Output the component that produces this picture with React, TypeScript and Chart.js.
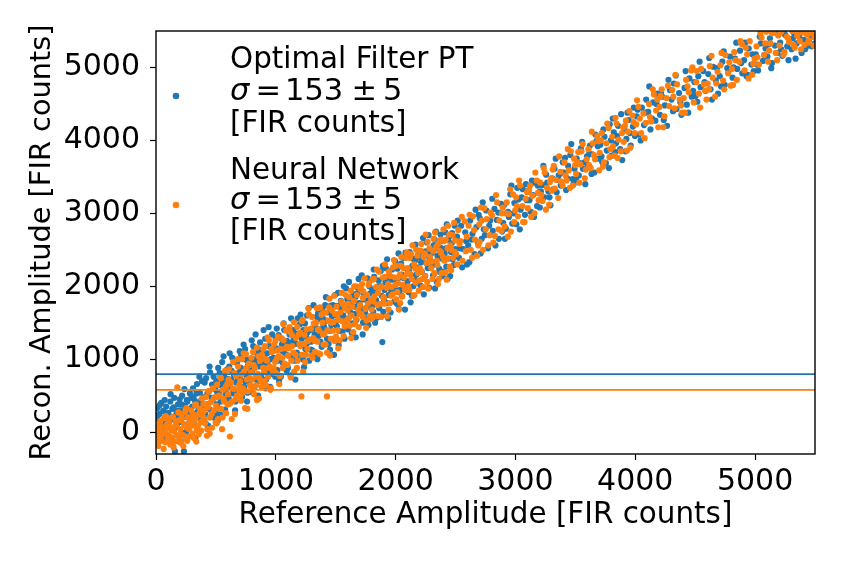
import React, { useEffect, useRef } from 'react';
import { Chart, registerables } from 'chart.js';

Chart.register(...registerables);

// ---- data (reference amplitude, reconstructed amplitude) ----
const optimalFilterPoints: [number, number][] = [
  [5,180],[12,330],[20,60],[28,250],[35,-120],[44,400],[52,140],[60,290],[68,-40],[77,210],[85,350],[94,100],
  [104,260],[111,-60],[119,420],[127,170],[136,320],[143,30],[152,470],[158,-265],[166,230],[175,110],[184,380],[193,-130],
  [203,300],[210,140],[218,500],[226,-20],[233,-265],[241,360],[249,210],[257,440],[266,80],[274,280],[283,530],[292,190],
  [302,350],[309,600],[317,120],[325,430],[334,260],[342,660],[350,20],[358,390],[367,540],[375,180],[384,700],[393,320],
  [402,480],[410,250],[418,740],[426,380],[435,90],[443,560],[451,820],[459,300],[468,650],[476,440],[485,200],[494,590],
  [503,700],[511,380],[519,880],[527,520],[536,240],[544,640],[552,960],[560,450],[569,760],[577,310],[586,580],[595,860],
  [603,620],[611,900],[619,400],[627,720],[636,1020],[644,530],[652,780],[660,300],[669,680],[677,950],[686,560],[695,820],
  [703,720],[711,1060],[719,480],[727,860],[736,620],[744,1140],[752,780],[760,420],[769,920],[777,680],[786,1000],[795,560],
  [803,840],[811,1180],[819,620],[827,960],[836,720],[844,1080],[852,500],[860,900],[869,1230],[877,760],[886,1010],[895,640],
  [903,960],[911,1280],[919,720],[927,1080],[936,840],[944,1180],[952,620],[960,1000],[969,1340],[977,880],[986,1120],[995,760],
  [8,20],[17,230],[31,370],[47,-10],[63,170],[72,440],[81,-90],[98,260],
  [107,150],[122,520],[131,-150],[147,340],[163,70],[171,290],[188,200],[197,450],
  [206,-130],[214,380],[229,250],[237,590],[253,10],[262,420],[278,130],[296,470],
  [305,240],[313,480],[328,-80],[338,530],[353,300],[362,760],[378,440],[396,150],
  [406,680],[414,120],[429,530],[438,330],[447,900],[463,470],[481,760],[497,260],
  [507,560],[516,160],[531,810],[540,420],[556,680],[564,1040],[581,510],[598,730],
  [607,460],[615,1080],[631,840],[640,590],[656,960],[664,420],[681,740],[699,1110],
  [707,880],[716,600],[731,1200],[740,700],[756,990],[764,540],[781,840],[799,1260],
  [807,540],[816,880],[831,1340],[840,1010],[856,700],[864,1130],[881,920],[898,1400],
  [907,1060],[916,600],[931,940],[940,1440],[956,1170],[964,800],[981,1020],[998,1290],
  [1004,1150],[1013,850],[1023,1330],[1032,1000],[1042,760],[1051,1200],[1061,940],[1070,1400],[1080,1070],[1090,840],
  [1107,1050],[1115,1340],[1122,780],[1136,1230],[1144,1400],[1158,980],[1167,1210],[1175,1090],[1183,1560],[1196,1330],
  [1202,1480],[1211,1190],[1226,1000],[1230,1400],[1247,1140],[1253,1310],[1261,1600],[1278,980],[1285,1400],[1294,1240],
  [1305,1120],[1318,1420],[1324,1340],[1333,1060],[1341,1580],[1356,1320],[1364,1550],[1372,1240],[1388,1690],[1397,1470],
  [1403,1440],[1412,1740],[1427,1280],[1435,1640],[1449,1390],[1452,1130],[1469,1590],[1477,1740],[1481,1280],[1499,1510],
  [1509,1450],[1514,1730],[1525,1190],[1538,1630],[1543,1800],[1557,1380],[1562,1600],[1579,1490],[1586,1970],[1591,1720],
  [1601,1410],[1616,1720],[1623,1640],[1634,1360],[1648,1890],[1655,1620],[1663,1850],[1674,1540],[1682,1980],[1695,1770],
  [1706,1990],[1710,1690],[1728,1500],[1731,1900],[1745,1640],[1759,1820],[1766,2110],[1773,1470],[1787,1900],[1793,1740],
  [1804,1950],[1813,1650],[1821,2130],[1837,1810],[1846,1570],[1854,2000],[1868,1750],[1876,2210],[1884,1870],[1897,1650],[1889,1234],
  [1908,1950],[1917,2250],[1924,1770],[1932,2130],[1942,1880],[1958,1640],[1965,2090],[1971,2230],[1989,1790],[1992,2000],
  [2002,1940],[2015,2240],[2027,1690],[2033,2120],[2046,2310],[2051,1870],[2067,2110],[2074,1980],[2082,2460],[2098,2230],
  [2107,1920],[2111,2210],[2129,2150],[2136,1870],[2144,2380],[2153,2110],[2162,2350],[2177,2050],[2185,2490],[2194,2260],
  [2203,2480],[2219,2200],[2222,1990],[2238,2410],[2247,2140],[2256,2320],[2261,2600],[2279,1980],[2283,2390],[2296,2250],
  [2305,2460],[2312,2150],[2326,2640],[2331,2300],[2343,2060],[2358,2510],[2364,2240],[2375,2710],[2387,2380],[2391,2140],
  [2409,2450],[2414,2740],[2423,2270],[2437,2640],[2441,2380],[2455,2140],[2468,2590],[2472,2730],[2486,2290],[2499,2510],
  [1008,1420],[1019,980],[1027,700],[1046,1280],[1057,1110],[1065,1490],[1084,880],[1093,1250],
  [1102,880],[1118,1220],[1127,1560],[1139,1030],[1149,1290],[1163,720],[1178,1350],[1191,1060],
  [1207,1610],[1216,1280],[1235,890],[1243,1490],[1258,1210],[1266,1370],[1274,1700],[1291,1130],
  [1309,1250],[1315,1740],[1328,1460],[1347,1000],[1353,1630],[1367,1410],[1383,1170],[1392,1560],
  [1408,1380],[1418,1850],[1424,1530],[1441,1210],[1457,1730],[1463,1470],[1486,1060],[1494,1880],
  [1503,1600],[1519,1910],[1528,1390],[1547,1690],[1553,1560],[1568,2000],[1574,1280],[1597,1820],
  [1607,1560],[1611,2060],[1628,1780],[1641,1490],[1659,1720],[1667,1300],[1678,1900],[1691,2100],
  [1701,1750],[1717,2150],[1725,1340],[1738,1820],[1752,1700],[1763,1560],[1781,2000],[1798,1910],
  [1808,1740],[1817,2230],[1829,1500],[1842,1920],[1859,2080],[1863,1700],[1879,2000],[1893,2280],
  [1903,1820],[1915,2060],[1929,2370],[1938,1560],[1947,2000],[1962,1950],[1977,2120],[1996,2340],
  [2008,2070],[2011,1760],[2024,2450],[2039,1950],[2049,2160],[2062,2390],[2078,1680],[2094,2020],
  [2101,2070],[2117,2470],[2125,1780],[2139,2280],[2148,2000],[2166,2570],[2174,2160],[2198,2400],
  [2208,2010],[2213,2330],[2229,2660],[2235,1890],[2250,2480],[2268,2250],[2275,2700],[2291,2450],
  [2302,2330],[2317,2560],[2329,1970],[2337,2750],[2349,2420],[2366,2200],[2373,2530],[2396,2620],
  [2402,2200],[2418,2520],[2427,2850],[2433,2100],[2448,2680],[2462,2470],[2477,2370],[2493,2830],
  [2512,2680],[2528,2390],[2547,2830],[2563,2510],[2581,2740],[2596,2300],
  [2606,2560],[2622,2900],[2641,2720],[2659,2440],[2674,2810],[2693,2980],
  [2703,2930],[2718,2650],[2736,2780],[2755,3040],[2771,2520],[2789,2900],
  [2811,2760],[2825,3060],[2844,2910],[2862,2650],[2880,3130],[2897,2870],
  [2904,3110],[2920,2790],[2938,3020],[2957,3260],[2973,2860],[2991,3140],
  [3008,2850],[3024,3190],[3043,3050],[3061,3330],[3079,2980],[3094,3180],
  [3109,3310],[3127,3020],[3146,3250],[3162,3420],[3180,3100],[3198,3290],
  [3203,3080],[3221,3390],[3240,3220],[3256,3530],[3275,3300],[3292,3110],
  [3307,3480],[3326,3610],[3344,3290],[3361,3520],[3378,3380],[3395,3700],
  [3405,3560],[3423,3320],[3440,3650],[3458,3800],[3477,3470],[3493,3610],
  [3511,3750],[3529,3520],[3546,3890],[3564,3610],[3583,3400],[3597,3780],
  [3604,3660],[3622,3930],[3641,3810],[3659,3560],[3676,3990],[3694,3750],
  [3708,3940],[3725,3700],[3743,4050],[3762,3860],[3780,3620],[3796,4000],
  [3803,3790],[3821,4110],[3839,3960],[3856,4200],[3874,3880],[3891,3730],
  [3909,4150],[3926,4020],[3945,4280],[3962,3930],[3980,4190],[3997,4060],
  [2518,2900],[2537,2520],[2555,2260],[2588,2620],[2615,2330],[2634,2640],[2667,3050],[2686,2600],
  [2709,2450],[2727,3150],[2745,2700],[2781,2830],[2806,3200],[2833,2560],[2857,3010],[2889,2750],
  [2912,2650],[2945,2950],[2966,3380],[2984,3000],[3015,3350],[3036,2780],[3052,3220],[3088,3400],
  [3117,3180],[3138,3450],[3155,2950],[3186,3380],[3212,3300],[3233,3650],[3265,3420],[3284,3220],
  [3315,3330],[3336,3750],[3352,3460],[3386,3560],[3414,3760],[3432,3480],[3466,3950],[3485,3400],
  [3505,3460],[3538,3690],[3557,3980],[3576,3700],[3616,3820],[3635,3540],[3667,4080],[3687,3920],
  [3718,3780],[3734,4150],[3755,3690],[3787,4220],[3812,4300],[3833,3840],[3848,4060],[3882,4360],
  [3918,3850],[3935,4380],[3955,4100],[3988,4450],
  [4012,4330],[4031,4080],[4055,4450],[4073,4210],[4091,4560],
  [4108,4390],[4127,4150],[4149,4520],[4168,4270],[4186,4640],
  [4206,4350],[4224,4600],[4247,4480],[4265,4200],[4289,4690],
  [4303,4560],[4322,4780],[4344,4430],[4366,4650],[4385,4350],
  [4411,4720],[4430,4490],[4452,4850],[4471,4600],[4493,4800],
  [4504,4610],[4526,4880],[4545,4730],[4567,4950],[4588,4680],
  [4609,4910],[4628,4700],[4650,5010],[4672,4820],[4691,4640],
  [4705,4880],[4727,5080],[4746,4760],[4768,4990],[4790,5150],
  [4812,4860],[4833,5120],[4851,4980],[4874,5230],[4893,4920],
  [4908,5100],[4929,4880],[4947,5260],[4969,5040],[4988,4950],
  [5006,5180],[5025,4960],[5048,5330],[5066,5090],[5087,5260],
  [5103,5150],[5124,5400],[5142,5060],[5165,5300],[5184,5200],
  [5209,5340],[5227,5160],[5250,5450],[5268,5290],[5289,5390],
  [5305,5250],[5326,5470],[5347,5330],[5369,5440],[5388,5200],
  [5407,5380],[5428,5480],[5446,5300],[5475,5290],[5492,5420],
  [4020,4420],[4045,4000],[4083,4380],[4117,4740],[4140,4300],[4178,4500],
  [4215,4650],[4238,4280],[4277,4830],[4315,4400],[4338,4890],[4376,4520],
  [4420,4950],[4442,4380],[4483,4680],[4518,4530],[4537,5080],[4578,4800],
  [4617,5130],[4640,4560],[4681,4990],[4716,4740],[4738,5220],[4780,4950],
  [4820,5000],[4843,5340],[4884,5060],[4918,5340],[4938,4900],[4978,5180],
  [5016,5040],[5039,5420],[5077,5170],[5114,5320],[5135,4990],[5174,5480],
  [5218,5250],[5240,5500],[5279,5100],[5316,5400],[5338,5120],[5378,5500],
  [5418,5250],[5437,5500],[5468,5440],[5499,5330],
];

const neuralNetworkPoints: [number, number][] = [
  [4,-60],[11,80],[19,-190],[27,20],[36,150],[43,-110],[51,60],[59,-20],[68,190],[76,-140],[84,40],[93,110],
  [103,-30],[110,130],[118,-170],[126,70],[135,-80],[142,210],[151,10],[159,-130],[167,90],[178,615],[183,-50],[192,160],
  [202,40],[209,-150],[217,190],[225,-40],[234,110],[242,270],[250,-100],[258,60],[267,200],[275,-60],[284,130],[293,300],
  [301,90],[308,250],[316,-80],[324,170],[333,380],[341,40],[349,230],[357,-30],[366,320],[374,140],[383,460],[392,210],
  [401,290],[409,120],[417,480],[425,-50],[434,340],[442,560],[450,200],[458,410],[467,60],[475,600],[484,300],[493,480],
  [502,360],[510,650],[518,180],[526,500],[535,760],[543,320],[551,40],[559,580],[568,420],[576,840],[585,260],[594,650],
  [602,520],[610,860],[617,-60],[626,680],[635,420],[643,960],[651,590],[659,250],[668,770],[676,500],[685,900],[694,640],
  [702,700],[710,430],[718,1000],[726,600],[735,830],[743,330],[751,1070],[759,720],[768,560],[776,940],[785,640],[794,820],
  [802,720],[810,1100],[818,520],[826,880],[835,640],[843,1160],[851,800],[859,460],[868,980],[876,700],[885,1060],[894,880],
  [902,820],[910,1180],[918,640],[926,980],[935,760],[943,1260],[951,900],[959,600],[968,1100],[976,820],[985,1200],[994,960],
  [7,40],[16,-150],[32,120],[48,-40],[64,-230],[73,70],[82,220],[97,-80],
  [106,190],[115,-120],[131,30],[147,-210],[163,150],[172,-40],[187,270],[196,-100],
  [207,-30],[213,240],[228,-190],[238,90],[254,330],[261,-120],[277,40],[289,180],
  [304,-20],[312,140],[327,370],[336,-130],[352,90],[361,250],[377,20],[397,380],
  [404,170],[413,380],[428,40],[437,560],[448,-20],[464,250],[482,460],[498,130],
  [506,120],[515,480],[532,320],[541,740],[555,200],[563,460],[582,620],[597,380],
  [606,720],[614,390],[632,180],[641,600],[655,810],[663,450],[682,1000],[698,560],
  [706,500],[715,790],[732,1080],[741,560],[755,880],[763,320],[782,740],[797,1020],
  [806,600],[815,920],[832,760],[842,440],[855,1040],[863,740],[882,620],[896,1140],
  [906,700],[915,1000],[932,1300],[942,880],[955,580],[963,1140],[982,880],[997,1250],
  [1003,810],[1016,1120],[1024,1040],[1035,770],[1048,1290],[1055,1020],[1066,1260],[1074,940],[1086,1390],[1095,1170],
  [1108,1150],[1114,1440],[1129,980],[1134,1330],[1147,1090],[1153,830],[1168,1290],[1179,1440],[1182,980],[1197,1210],
  [1206,1360],[1219,1060],[1225,1540],[1238,1210],[1244,960],[1257,1410],[1263,1140],[1276,1610],[1283,1270],[1298,1050],[1214,490],
  [1301,1580],[1312,1290],[1327,1100],[1335,1500],[1346,1240],[1352,1410],[1369,1710],[1371,1070],[1389,1500],[1393,1340],
  [1406,1350],[1417,1640],[1428,1090],[1439,1530],[1445,1710],[1459,1280],[1463,1500],[1476,1390],[1487,1870],[1494,1620],[1427,490],
  [1502,1310],[1511,1610],[1524,1540],[1533,1260],[1547,1790],[1556,1520],[1564,1750],[1575,1450],[1583,1880],[1598,1670],
  [1605,1760],[1618,1460],[1627,1940],[1631,1600],[1646,1370],[1652,1800],[1669,1550],[1673,2000],[1688,1680],[1692,1440],
  [1703,1740],[1719,2030],[1726,1580],[1730,1930],[1749,1690],[1754,1430],[1762,1880],[1778,2040],[1785,1590],[1796,1810],
  [1807,2090],[1815,1790],[1824,1590],[1836,1990],[1848,1740],[1853,1910],[1861,2200],[1879,1580],[1882,1990],[1899,1850],
  [1901,1840],[1912,2130],[1928,1590],[1936,2030],[1944,2200],[1953,1770],[1967,1990],[1975,1890],[1986,2360],[1994,2120],
  [2006,1820],[2018,2120],[2021,2040],[2039,1770],[2043,2280],[2058,2020],[2064,2250],[2079,1950],[2087,2390],[2096,2170],
  [2101,2250],[2114,1950],[2128,2440],[2135,2100],[2149,1870],[2154,2300],[2166,2050],[2171,2500],[2188,2180],[2193,1940],
  [2208,2490],[2216,2200],[2229,1990],[2234,2400],[2245,2140],[2259,2320],[2267,2610],[2272,1970],[2286,2400],[2297,2250],
  [2302,2340],[2317,2650],[2325,2180],[2339,2540],[2348,2290],[2353,2030],[2366,2490],[2377,2640],[2384,2180],[2395,2400],
  [2407,2350],[2418,2640],[2426,2090],[2434,2520],[2448,2710],[2452,2270],[2465,2500],[2479,2390],[2488,2870],[2496,2630],
  [1007,1000],[1018,1310],[1029,660],[1044,1140],[1058,880],[1063,1480],[1081,1150],[1097,920],
  [1103,1050],[1119,1380],[1125,750],[1137,1180],[1151,1510],[1165,1060],[1176,880],[1192,1340],
  [1203,1180],[1217,1520],[1228,830],[1239,1330],[1252,1060],[1268,1250],[1272,1690],[1293,1420],
  [1306,1020],[1317,1490],[1324,1250],[1343,1700],[1358,1080],[1363,1390],[1381,1610],[1398,1200],
  [1402,1640],[1414,1200],[1431,1400],[1448,1830],[1452,1050],[1467,1670],[1483,1510],[1491,1250],
  [1508,1720],[1516,1400],[1521,1150],[1539,1640],[1551,1910],[1566,1320],[1577,1700],[1592,1530],
  [1603,1550],[1612,1850],[1629,1290],[1637,1720],[1654,2000],[1662,1480],[1677,1880],[1699,1620],
  [1708,1960],[1714,1620],[1727,1840],[1741,2110],[1757,1530],[1768,1760],[1774,2020],[1799,1550],
  [1801,1680],[1819,2100],[1822,1860],[1844,2230],[1851,1590],[1868,1980],[1873,1760],[1894,2120],
  [1906,1760],[1911,2300],[1925,1980],[1941,1680],[1957,2140],[1963,1870],[1979,2260],[1998,2020],
  [2003,2280],[2014,1920],[2028,1680],[2036,2160],[2047,2400],[2055,1860],[2071,2120],[2093,2460],
  [2106,2000],[2118,2390],[2122,2170],[2141,2560],[2157,1880],[2164,2240],[2182,2420],[2197,2080],
  [2202,2250],[2215,2580],[2226,2100],[2243,2450],[2251,2710],[2264,2060],[2283,2520],[2291,2340],
  [2308,2100],[2314,2480],[2329,2740],[2343,2350],[2355,2580],[2362,2100],[2378,2460],[2399,2780],
  [2405,2620],[2416,2190],[2432,2380],[2437,2830],[2456,2560],[2463,2220],[2474,2700],[2495,2470],
  [2505,2440],[2523,2770],[2540,2620],[2558,2350],[2576,2890],[2593,2680],
  [2609,2830],[2627,2500],[2645,2960],[2662,2640],[2680,2420],[2698,2850],
  [2701,2610],[2719,2900],[2738,3070],[2752,2780],[2774,2560],[2792,3010],
  [2806,2970],[2828,2690],[2847,3150],[2865,2900],[2883,2760],[2894,3080],
  [2909,2820],[2927,3150],[2944,2990],[2962,2750],[2980,3260],[2998,3040],
  [3005,3220],[3021,2960],[3039,3380],[3058,3100],[3076,2880],[3097,3290],
  [3103,3070],[3122,3380],[3140,3240],[3159,3000],[3177,3450],[3193,3180],
  [3207,3420],[3226,3170],[3244,3560],[3263,3350],[3281,3120],[3299,3480],
  [3302,3310],[3320,3650],[3338,3460],[3357,3210],[3375,3570],[3393,3380],
  [3409,3700],[3427,3450],[3445,3590],[3462,3850],[3480,3380],[3498,3660],
  [3506,3540],[3524,3840],[3542,3670],[3561,3950],[3579,3480],[3594,3740],
  [3609,3880],[3628,3620],[3646,3960],[3664,3740],[3682,4060],[3699,3590],
  [3703,3830],[3721,4100],[3739,3700],[3758,3960],[3777,4170],[3793,3880],
  [3807,4050],[3826,3790],[3844,4230],[3861,4010],[3879,3850],[3898,4180],
  [3904,3980],[3922,4270],[3940,4120],[3959,3900],[3977,4340],[3995,4100],
  [2514,2300],[2533,2580],[2552,2950],[2585,2480],[2618,2980],[2638,2390],[2655,2770],[2689,2560],
  [2712,3080],[2730,2500],[2760,2920],[2784,2700],[2815,2600],[2838,3250],[2859,2780],[2886,3000],
  [2918,3000],[2936,2680],[2956,3330],[2989,2880],[3012,3100],[3030,3450],[3064,2880],[3085,3200],
  [3114,3320],[3131,2950],[3166,3560],[3188,3280],[3215,3250],[3236,3620],[3254,3050],[3288,3430],
  [3311,3600],[3329,3340],[3365,3780],[3381,3440],[3418,3520],[3437,3880],[3454,3350],[3489,3750],
  [3515,3700],[3533,3420],[3551,3850],[3587,3600],[3614,3660],[3637,4120],[3655,3800],[3691,3990],
  [3712,4000],[3730,3640],[3766,4230],[3785,3770],[3815,3920],[3835,4310],[3852,3760],[3889,4100],
  [3914,4200],[3931,3860],[3950,4400],[3986,4250],
  [4008,4220],[4027,4460],[4049,4100],[4068,4370],[4088,4240],
  [4115,4500],[4133,4260],[4155,4630],[4174,4410],[4192,4180],
  [4203,4460],[4221,4700],[4243,4330],[4261,4580],[4284,4470],
  [4309,4690],[4328,4440],[4349,4770],[4371,4560],[4390,4380],
  [4405,4580],[4424,4830],[4446,4660],[4467,4960],[4488,4520],
  [4509,4800],[4531,4640],[4550,4980],[4572,4770],[4594,4560],
  [4604,4780],[4622,5020],[4645,4860],[4666,4600],[4687,4940],
  [4711,5030],[4733,4820],[4752,5170],[4774,4920],[4796,4750],
  [4807,4980],[4826,5210],[4848,4830],[4869,5080],[4890,5320],
  [4912,4960],[4934,5180],[4955,5360],[4976,4900],[4996,5120],
  [5012,5290],[5033,5040],[5054,5410],[5075,5170],[5093,5490],
  [5108,5080],[5129,5330],[5151,5480],[5172,5200],[5193,5440],
  [5204,5300],[5223,5500],[5246,5210],[5265,5420],[5284,5350],
  [5310,5500],[5331,5270],[5352,5430],[5374,5360],[5393,5480],
  [5412,5310],[5433,5450],[5451,5370],[5470,5490],[5496,5420],
  [4015,4550],[4038,4300],[4078,4030],[4122,4320],[4146,4700],[4184,4560],
  [4212,4610],[4234,4180],[4273,4750],[4318,4600],[4335,4900],[4382,4480],
  [4414,4380],[4436,4740],[4477,5000],[4515,4950],[4541,4450],[4583,4680],
  [4615,4700],[4636,5160],[4676,4780],[4720,5200],[4742,4700],[4785,5070],
  [4816,4760],[4838,5100],[4878,5360],[4922,5270],[4945,4850],[4985,5050],
  [5020,5140],[5044,5470],[5085,5330],[5117,5230],[5140,5470],[5184,5100],
  [5214,5480],[5236,5170],[5275,5400],[5321,5310],[5342,5490],[5384,5250],
  [5422,5500],[5442,5340],[5460,5470],[5488,5300],
];

const seriesNames = ['Optimal Filter PT', 'Neural Network'];
const seriesColors = ['#1f77b4', '#ff7f0e'];
const sigmaValues = [153, 153];
const sigmaErrors = [5, 5];
const thresholdLevels = [795, 578];
const xRange = [0, 5500];
const yRange = [-300, 5500];
const xTicks = [0, 1000, 2000, 3000, 4000, 5000];
const yTicks = [0, 1000, 2000, 3000, 4000, 5000];

const FONT = '"DejaVu Sans", sans-serif';

// legend drawn by hand so each entry can hold three lines and an italic sigma
const legendPlugin = {
  id: 'sigmaLegend',
  afterDraw(chart: any) {
    const { ctx, chartArea } = chart;
    const size = 29.4;
    const mathSize = 30.5;
    const textX = chartArea.left + 74;
    const markerX = chartArea.left + 20;
    const baselines = [[68, 100, 132], [179, 209, 240]];
    const markerY = [96, 205];
    ctx.save();
    ctx.textAlign = 'left';
    ctx.textBaseline = 'alphabetic';
    seriesNames.forEach((name, i) => {
      const [b1, b2, b3] = baselines[i];
      ctx.fillStyle = seriesColors[i];
      ctx.beginPath();
      ctx.arc(markerX, markerY[i], 3.3, 0, Math.PI * 2);
      ctx.fill();
      ctx.fillStyle = '#000';
      ctx.font = `${size}px ${FONT}`;
      ctx.fillText(name, textX, b1);
      // sigma line: pieces placed by their ink left edge, math-style spacing
      const pieces = [
        { t: 'σ', italic: true, dx: 0 },
        { t: '=', italic: false, dx: 28.5 },
        { t: String(sigmaValues[i]), italic: false, dx: 58 },
        { t: '±', italic: false, dx: 124.5 },
        { t: String(sigmaErrors[i]), italic: false, dx: 155 },
      ];
      pieces.forEach((p) => {
        ctx.font = `${p.italic ? 'italic ' : ''}${mathSize}px ${FONT}`;
        const m = ctx.measureText(p.t);
        ctx.fillText(p.t, textX + p.dx + m.actualBoundingBoxLeft, b2);
      });
      ctx.font = `${size}px ${FONT}`;
      ctx.fillText('[FIR counts]', textX, b3);
    });
    ctx.restore();
  },
};

// full frame around the axes, like the four spines
const framePlugin = {
  id: 'frame',
  afterDraw(chart: any) {
    const { ctx, chartArea: a } = chart;
    ctx.save();
    ctx.strokeStyle = '#000';
    ctx.lineWidth = 1.4;
    ctx.strokeRect(a.left, a.top, a.right - a.left, a.bottom - a.top);
    ctx.restore();
  },
};

const App: React.FC = () => {
  const chartRef = useRef<HTMLCanvasElement | null>(null);

  useEffect(() => {
    if (!chartRef.current) return;

    const toXY = (pts: [number, number][]) => pts.map(([x, y]) => ({ x, y }));
    const points = [optimalFilterPoints, neuralNetworkPoints];

    const scatterSets = points.map((pts, i) => ({
      label: seriesNames[i],
      data: toXY(pts),
      backgroundColor: seriesColors[i],
      borderWidth: 0,
      pointRadius: 3.1,
      pointHoverRadius: 3.1,
      clip: 0,
      order: 2 - i,
    }));

    const lineSets = thresholdLevels.map((level, i) => ({
      label: `${seriesNames[i]} threshold`,
      data: xRange.map((x) => ({ x, y: level })),
      showLine: true,
      borderColor: seriesColors[i],
      borderWidth: 1.8,
      pointRadius: 0,
      clip: 0,
      order: 0,
    }));

    const tickFont = { family: FONT, size: 30 };
    const gridOpts = {
      drawOnChartArea: false,
      drawTicks: true,
      tickLength: 6,
      tickColor: '#000',
      tickWidth: 1.2,
    };

    const chart = new Chart(chartRef.current, {
      type: 'scatter',
      data: { datasets: [...scatterSets, ...lineSets] as any },
      options: {
        animation: false,
        responsive: true,
        maintainAspectRatio: false,
        layout: { padding: { top: 31, right: 32, left: 0, bottom: 0 } },
        plugins: {
          legend: { display: false },
          tooltip: { enabled: false },
        },
        scales: {
          x: {
            type: 'linear',
            min: xRange[0],
            max: xRange[1],
            afterBuildTicks: (s: any) => {
              s.ticks = xTicks.map((v) => ({ value: v }));
            },
            afterFit: (s: any) => {
              s.height = 111;
            },
            ticks: {
              font: tickFont,
              color: '#000',
              padding: 4,
              maxRotation: 0,
              autoSkip: false,
              callback: (v: any) => String(v),
            },
            grid: gridOpts,
            border: { display: false },
            title: {
              display: true,
              text: 'Reference Amplitude [FIR counts]',
              font: { family: FONT, size: 29.4, lineHeight: 1.2 },
              color: '#000',
              padding: { top: 0, bottom: 32 },
            },
          },
          y: {
            type: 'linear',
            min: yRange[0],
            max: yRange[1],
            afterBuildTicks: (s: any) => {
              s.ticks = yTicks.map((v) => ({ value: v }));
            },
            afterFit: (s: any) => {
              s.width = 156;
            },
            ticks: {
              font: tickFont,
              color: '#000',
              padding: 10,
              autoSkip: false,
              callback: (v: any) => String(v),
            },
            grid: gridOpts,
            border: { display: false },
            title: {
              display: true,
              text: 'Recon. Amplitude [FIR counts]',
              font: { family: FONT, size: 28.8, lineHeight: 1.2 },
              color: '#000',
              padding: { top: 25, bottom: 0 },
            },
          },
        },
      } as any,
      plugins: [framePlugin, legendPlugin],
    });

    return () => {
      chart.destroy();
    };
  }, []);

  return (
    <div style={{ position: 'fixed', left: 0, top: 0, width: 847, height: 565, background: '#fff' }}>
      <canvas ref={chartRef} />
    </div>
  );
};

export default App;
